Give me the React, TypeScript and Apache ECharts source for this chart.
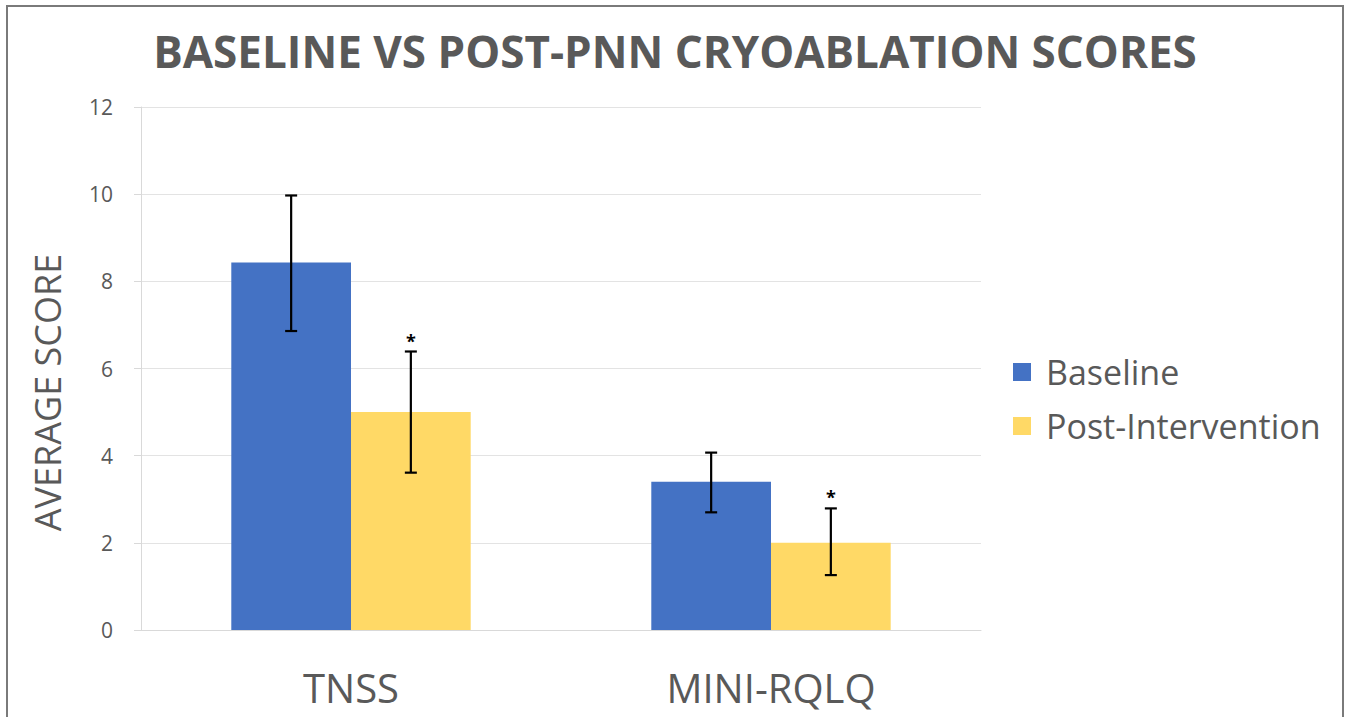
import React, { useEffect, useRef } from "react";
import * as echarts from "echarts";

const categories = ["TNSS", "MINI-RQLQ"];
const seriesNames = ["Baseline", "Post-Intervention"];
const baselineValues = [8.43, 3.4];
const postValues = [5.0, 2.0];
const baselineErrLow = [6.86, 2.7];
const baselineErrHigh = [9.97, 4.07];
const postErrLow = [3.61, 1.26];
const postErrHigh = [6.39, 2.79];
const postMarks = ["*", "*"];
const yTicks = { min: 0, max: 12, interval: 2 };

const BLUE = "#4472C4";
const YELLOW = "#FFD966";
const GRAY = "#595959";
const FONT = "'Open Sans', sans-serif";
const CAT_GAP = 0.43;

function errorRenderer(side: number, marks?: string[]) {
  return (params: any, api: any) => {
    const idx = api.value(0);
    const lo = api.value(1);
    const hi = api.value(2);
    const center = api.coord([idx, 0]);
    const band = api.size([1, 0])[0];
    const barW = (band * (1 - CAT_GAP)) / 2;
    const x = center[0] + (side * barW) / 2;
    const yLo = api.coord([idx, lo])[1];
    const yHi = api.coord([idx, hi])[1];
    const cap = 6;
    const style = { stroke: "#000", lineWidth: 2.2 };
    const children: any[] = [
      { type: "line", shape: { x1: x, y1: yLo, x2: x, y2: yHi }, style },
      { type: "line", shape: { x1: x - cap, y1: yLo, x2: x + cap, y2: yLo }, style },
      { type: "line", shape: { x1: x - cap, y1: yHi, x2: x + cap, y2: yHi }, style },
    ];
    if (marks) {
      children.push({
        type: "text",
        style: {
          text: marks[params.dataIndex],
          x: x,
          y: yHi - 2,
          align: "center",
          verticalAlign: "bottom",
          fill: "#000",
          font: "bold 18px 'Open Sans', sans-serif",
        },
      });
    }
    return { type: "group", children };
  };
}

export default function App() {
  const ref = useRef<HTMLDivElement>(null);
  useEffect(() => {
    if (!ref.current) return;
    const chart = echarts.init(ref.current, undefined, { renderer: "svg" });
    chart.setOption({
      animation: false,
      backgroundColor: "#ffffff",
      graphic: [
        {
          type: "rect",
          shape: { x: 7, y: 6, width: 1336, height: 730 },
          style: { fill: "none", stroke: "#7a7a7a", lineWidth: 2 },
          silent: true,
        },
      ],
      title: {
        text: "BASELINE VS POST-PNN CRYOABLATION SCORES",
        left: "center",
        top: 24,
        textStyle: {
          fontFamily: FONT,
          fontWeight: "bold",
          fontSize: 44,
          color: GRAY,
        },
      },
      legend: {
        orient: "vertical",
        left: 1008,
        top: 350,
        itemWidth: 18,
        itemHeight: 18,
        itemGap: 20,
        icon: "rect",
        data: seriesNames,
        textStyle: { fontSize: 34, color: GRAY, fontFamily: FONT, padding: [0, 0, 0, 10] },
      },
      grid: { left: 141, right: 369, top: 107, bottom: 87 },
      xAxis: {
        type: "category",
        data: categories,
        axisLine: { lineStyle: { color: "#d9d9d9", width: 1 } },
        axisTick: { show: false },
        axisLabel: {
          fontSize: 40,
          color: GRAY,
          margin: 37,
          fontFamily: FONT,
        },
      },
      yAxis: {
        type: "value",
        min: yTicks.min,
        max: yTicks.max,
        interval: yTicks.interval,
        name: "AVERAGE SCORE",
        nameLocation: "middle",
        nameRotate: 90,
        nameGap: 76,
        nameTextStyle: {
          fontSize: 36,
          color: GRAY,
          fontFamily: FONT,
          padding: [0, 48, 0, 0],
        },
        axisLine: { show: true, lineStyle: { color: "#d9d9d9" } },
        axisTick: { show: true, length: 7, lineStyle: { color: "#d9d9d9" } },
        splitLine: { lineStyle: { color: "#e3e3e3", width: 1 } },
        axisLabel: {
          fontSize: 21,
          color: GRAY,
          margin: 28,
          fontFamily: FONT,
        },
      },
      series: [
        {
          name: seriesNames[0],
          type: "bar",
          data: baselineValues,
          barGap: "0%",
          barCategoryGap: CAT_GAP * 100 + "%",
          itemStyle: { color: BLUE },
        },
        {
          name: seriesNames[1],
          type: "bar",
          data: postValues,
          itemStyle: { color: YELLOW },
        },
        {
          type: "custom",
          renderItem: errorRenderer(-1),
          data: categories.map((_, i) => [i, baselineErrLow[i], baselineErrHigh[i]]),
          encode: { x: 0, y: [1, 2] },
          z: 10,
          silent: true,
        },
        {
          type: "custom",
          renderItem: errorRenderer(1, postMarks),
          data: categories.map((_, i) => [i, postErrLow[i], postErrHigh[i]]),
          encode: { x: 0, y: [1, 2] },
          z: 10,
          silent: true,
        },
      ],
    });
    return () => chart.dispose();
  }, []);
  return (
    <div
      ref={ref}
      style={{ position: "fixed", left: 0, top: 0, width: 1350, height: 717 }}
    />
  );
}
